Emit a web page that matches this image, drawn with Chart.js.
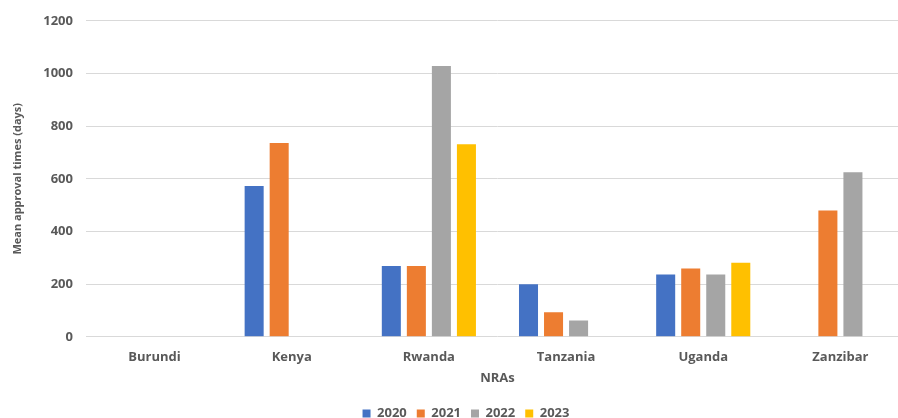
<!DOCTYPE html>
<html>
<head>
<meta charset="utf-8">
<script src="https://cdn.jsdelivr.net/npm/chart.js@4/dist/chart.umd.min.js"></script>
<style>
  html, body { margin: 0; padding: 0; background: #fff; overflow: hidden; }
  #wrap { width: 932px; height: 418px; }
</style>
</head>
<body>
<div id="wrap"><canvas id="chart" width="932" height="418"></canvas></div>
<script>
// Data
const categories = ['Burundi', 'Kenya', 'Rwanda', 'Tanzania', 'Uganda', 'Zanzibar'];
const years = ['2020', '2021', '2022', '2023'];
const values2020 = [null, 573, 269, 200, 237, null];
const values2021 = [null, 736, 269, 93, 259, 480];
const values2022 = [null, null, 1028, 62, 237, 625];
const values2023 = [null, null, 731, null, 281, null];
const yTicks = [0, 200, 400, 600, 800, 1000, 1200];

const colors = ['#4472C4', '#ED7D31', '#A5A5A5', '#FFC000'];
const textColor = '#595959';
const fontFamily = '"Open Sans", "DejaVu Sans", sans-serif';

const series = [values2020, values2021, values2022, values2023];

// legend sits a bit right of the plot centre in the original
const legendShift = {
  id: 'legendShift',
  afterLayout(chart) {
    chart.legend.left += 6;
    chart.legend.right += 6;
  }
};

new Chart(document.getElementById('chart'), {
  type: 'bar',
  data: {
    labels: categories,
    datasets: series.map((vals, i) => ({
      label: years[i],
      data: vals,
      backgroundColor: colors[i],
      borderWidth: 0,
      categoryPercentage: 0.73,
      barPercentage: 0.76
    }))
  },
  plugins: [legendShift],
  options: {
    responsive: false,
    animation: false,
    devicePixelRatio: 1,
    layout: {
      padding: {top: 7, right: 23, bottom: -12, left: 11}
    },
    plugins: {
      legend: {
        position: 'bottom',
        labels: {
          boxWidth: 8,
          boxHeight: 8,
          padding: 10,
          color: textColor,
          font: {family: fontFamily, size: 13, weight: 'bold'}
        }
      },
      tooltip: {enabled: false}
    },
    scales: {
      x: {
        grid: {display: false},
        border: {display: false},
        ticks: {
          color: textColor,
          padding: 5,
          font: {family: fontFamily, size: 13, weight: 'bold'}
        },
        title: {
          display: true,
          text: 'NRAs',
          color: textColor,
          padding: {top: 0, bottom: 11},
          font: {family: fontFamily, size: 13, weight: 'bold'}
        }
      },
      y: {
        min: 0,
        max: 1200,
        afterBuildTicks: (axis) => {
          axis.ticks = yTicks.map(v => ({value: v}));
        },
        grid: {color: '#D9D9D9', lineWidth: 1, drawTicks: false},
        border: {display: false},
        ticks: {
          color: textColor,
          padding: 13,
          callback: (v) => String(v),
          font: {family: fontFamily, size: 13, weight: 'bold'}
        },
        title: {
          display: true,
          text: 'Mean approval times (days)',
          color: textColor,
          padding: {top: 0, bottom: 6},
          font: {family: fontFamily, size: 11, weight: 'bold'}
        }
      }
    }
  }
});
</script>
</body>
</html>
